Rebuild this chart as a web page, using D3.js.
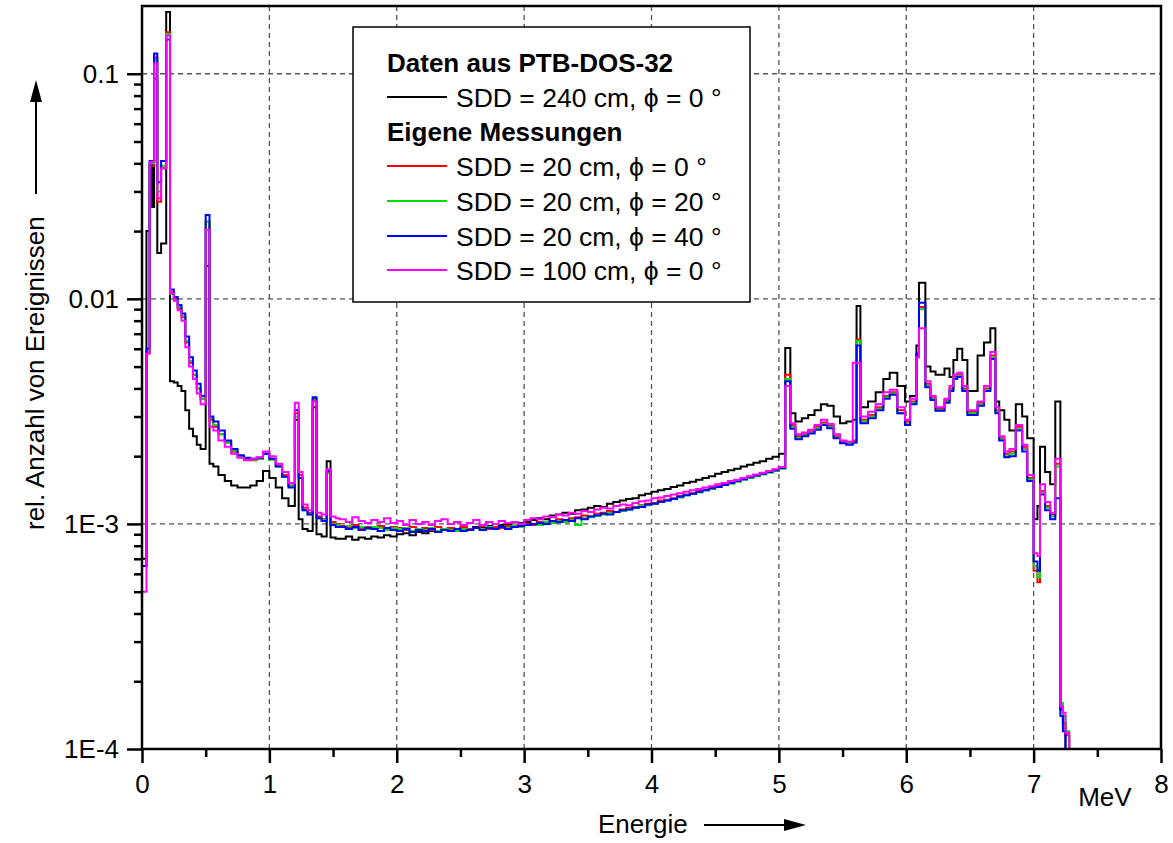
<!DOCTYPE html>
<html>
<head>
<meta charset="utf-8">
<script src="https://cdn.jsdelivr.net/npm/d3@7"></script>
<style>
  body { margin: 0; background: #fff; }
  svg { display: block; font-family: "Liberation Sans", Arial, Helvetica, sans-serif; }
</style>
</head>
<body>
<div id="chart"></div>
<script>
// energy spectra, step histograms; counts in units of 1E-3 (rel. Anzahl * 1000)

// left bin edges in MeV (last entry = right edge of last bin)
const binEdges = [
  0, 0.035, 0.06, 0.08, 0.095, 0.12, 0.15, 0.19, 0.22, 0.25,
  0.28, 0.31, 0.34, 0.37, 0.40, 0.43, 0.46, 0.50, 0.53, 0.56,
  0.60, 0.65, 0.70, 0.75, 0.80, 0.85, 0.90, 0.95, 1.00, 1.05,
  1.10, 1.15, 1.20, 1.23, 1.26, 1.30, 1.34, 1.37, 1.41, 1.45,
  1.48, 1.52,
  1.55, 1.60, 1.65, 1.70, 1.75, 1.80, 1.85, 1.90, 1.95, 2.00,
  2.05, 2.10, 2.15, 2.20, 2.25, 2.30, 2.35, 2.40, 2.45, 2.50,
  2.55, 2.60, 2.65, 2.70, 2.75, 2.80, 2.85, 2.90, 2.95, 3.00,
  3.05, 3.10, 3.15, 3.20, 3.25, 3.30, 3.35, 3.40, 3.45, 3.50,
  3.55, 3.60, 3.65, 3.70, 3.75, 3.80, 3.85, 3.90, 3.95, 4.00,
  4.05, 4.10, 4.15, 4.20, 4.25, 4.30, 4.35, 4.40, 4.45, 4.50,
  4.55, 4.60, 4.65, 4.70, 4.75, 4.80, 4.85, 4.90, 4.95, 5.00,
  5.05, 5.09, 5.13, 5.18, 5.23, 5.28, 5.33, 5.38, 5.43, 5.48,
  5.53, 5.58, 5.61, 5.64, 5.70, 5.76, 5.82, 5.87, 5.93, 5.99,
  6.03, 6.08, 6.10, 6.15, 6.19, 6.23, 6.30, 6.34, 6.37, 6.40,
  6.44, 6.48, 6.56, 6.61, 6.66, 6.70, 6.73, 6.77, 6.81, 6.86,
  6.91, 6.95, 7.00, 7.03, 7.05, 7.09, 7.13, 7.17, 7.21, 7.23,
  7.25, 7.28, 7.31, 7.35
];

// PTB-DOS-32, SDD = 240 cm, phi = 0
const ptb240 = [
  0.7, 20, 40, 25.6, 95, 16, 17.6, 188, 4.3, 4.25,
  4.1, 3.9, 3.2, 2.65, 2.45, 2.25, 2.15, 14, 1.85, 1.8,
  1.65, 1.55, 1.48, 1.45, 1.45, 1.48, 1.55, 1.72, 1.6, 1.45,
  1.3, 1.2, 2.9, 1.05, 0.95, 0.93, 3.3, 0.9, 0.88, 1.9,
  0.87, 0.86,
  0.86, 0.88, 0.85, 0.87, 0.86, 0.88, 0.87, 0.89, 0.88, 0.90,
  0.91, 0.89, 0.92, 0.91, 0.93, 0.92, 0.94, 0.95, 0.93, 0.96,
  0.95, 0.97, 0.96, 0.98, 0.97, 0.99, 1.0, 0.98, 1.01, 1.02,
  1.04, 1.06, 1.05, 1.09, 1.1, 1.12, 1.11, 1.15, 1.16, 1.18,
  1.2, 1.19, 1.23, 1.25, 1.27, 1.29, 1.3, 1.34, 1.36, 1.39,
  1.41, 1.43, 1.46, 1.48, 1.52, 1.54, 1.57, 1.6, 1.63, 1.67,
  1.7, 1.73, 1.76, 1.8, 1.83, 1.87, 1.9, 1.95, 1.99, 2.05,
  6.05, 3.1, 2.85, 2.95, 3.05, 3.2, 3.4, 3.35, 3.0, 2.8,
  2.85, 2.9, 9.3, 3.3, 3.5, 3.85, 4.4, 4.7, 4.1, 3.5,
  3.7, 6.2, 11.8, 5.0, 4.75, 4.6, 4.9, 4.5, 5.35, 6.0,
  5.35, 3.9, 5.6, 6.4, 7.4, 3.5, 3.2, 2.9, 2.6, 3.4,
  3.0, 2.4, 1.05, 1.2, 2.2, 1.7, 1.5, 3.5, 0.15, 0.13,
  0.1, 0.08, 0.05
];

// SDD = 20 cm, phi = 0
const sdd20phi0 = [
  0.65, 5.8, 39, 39, 118, 27, 38, 153, 10.7, 10.0,
  9.1, 8.3, 6.4, 5.2, 4.6, 4.0, 3.6, 22, 2.9, 2.7,
  2.5, 2.3, 2.1, 2.0, 1.93, 1.92, 1.95, 2.05, 1.95, 1.82,
  1.65, 1.48, 3.1, 1.65, 1.18, 1.12, 3.6, 1.08, 1.05, 1.7,
  1.02, 1.0,
  0.98, 0.96, 0.99, 0.95, 0.97, 0.96, 0.98, 0.95, 0.97, 0.96,
  0.94, 0.97, 0.95, 0.96, 0.94, 0.97, 0.95, 0.96, 0.94, 0.97,
  0.95, 0.96, 0.98, 0.95, 0.97, 0.96, 0.98, 0.97, 0.99, 1.0,
  0.99, 1.02, 1.01, 1.03, 1.05, 1.04, 1.06, 1.07, 1.09, 1.08,
  1.11, 1.12, 1.14, 1.13, 1.16, 1.18, 1.19, 1.21, 1.23, 1.24,
  1.27, 1.28, 1.3, 1.33, 1.35, 1.37, 1.4, 1.42, 1.45, 1.47,
  1.5, 1.53, 1.56, 1.59, 1.62, 1.65, 1.68, 1.71, 1.74, 1.78,
  4.6, 2.75, 2.45, 2.5, 2.58, 2.7, 2.82, 2.72, 2.45, 2.33,
  2.3, 2.35, 6.6, 2.9, 3.05, 3.3, 3.7, 3.85, 3.2, 2.85,
  3.5, 5.6, 9.2, 4.2, 3.65, 3.25, 3.55, 4.0, 4.5, 4.6,
  4.0, 3.15, 3.45, 4.0, 5.6, 3.2, 2.4, 2.05, 2.1, 2.7,
  2.2, 1.6, 0.62, 0.55, 1.4, 1.2, 1.1, 1.85, 0.15, 0.13,
  0.115, 0.09, 0.05
];

// SDD = 20 cm, phi = 20
const sdd20phi20 = [
  0.65, 5.9, 40, 40, 115, 30, 39, 150, 10.5, 9.9,
  9.2, 8.4, 6.5, 5.3, 4.6, 4.0, 3.6, 22, 2.95, 2.75,
  2.5, 2.3, 2.12, 2.0, 1.95, 1.93, 1.95, 2.05, 1.93, 1.8,
  1.62, 1.47, 3.0, 1.6, 1.15, 1.1, 3.55, 1.06, 1.04, 1.68,
  1.0, 0.99,
  0.97, 0.98, 0.96, 0.97, 0.95, 0.97, 0.96, 0.94, 0.96, 0.95,
  0.96, 0.93, 0.95, 0.94, 0.96, 0.93, 0.95, 0.94, 0.93, 0.95,
  0.94, 0.96, 0.95, 0.97, 0.95, 0.97, 0.96, 0.98, 0.97, 0.99,
  1.0, 0.99, 1.02, 1.01, 1.03, 1.02, 1.04, 0.99, 1.06, 1.07,
  1.09, 1.1, 1.12, 1.13, 1.14, 1.16, 1.18, 1.2, 1.21, 1.23,
  1.25, 1.27, 1.29, 1.31, 1.34, 1.36, 1.38, 1.41, 1.43, 1.46,
  1.49, 1.51, 1.54, 1.57, 1.6, 1.63, 1.66, 1.69, 1.72, 1.76,
  4.4, 2.7, 2.4, 2.47, 2.55, 2.66, 2.78, 2.7, 2.42, 2.3,
  2.27, 2.3, 6.5, 2.85, 3.0, 3.25, 3.65, 3.8, 3.1, 2.78,
  3.45, 5.5, 9.0, 4.1, 3.6, 3.2, 3.5, 3.95, 4.45, 4.55,
  3.95, 3.1, 3.4, 3.95, 5.5, 3.15, 2.38, 2.0, 2.05, 2.65,
  2.15, 1.58, 0.65, 0.58, 1.38, 1.18, 1.08, 1.8, 0.16, 0.14,
  0.12, 0.095, 0.05
];

// SDD = 20 cm, phi = 40
const sdd20phi40 = [
  0.65, 6.0, 41, 41, 123, 33, 41, 142, 11, 10.2,
  9.4, 8.6, 6.8, 5.5, 4.8, 4.2, 3.7, 23.6, 3.0, 2.85,
  2.6, 2.35, 2.15, 2.02, 1.97, 1.95, 1.97, 2.05, 1.95, 1.8,
  1.62, 1.45, 3.2, 1.6, 1.15, 1.1, 3.65, 1.06, 1.03, 1.72,
  0.99, 0.97,
  0.97, 0.95, 0.97, 0.94, 0.96, 0.95, 0.93, 0.96, 0.94, 0.93,
  0.95, 0.92, 0.94, 0.93, 0.95, 0.92, 0.94, 0.93, 0.95, 0.93,
  0.94, 0.96, 0.94, 0.96, 0.95, 0.97, 0.95, 0.97, 0.98, 0.99,
  1.0, 1.01, 1.0, 1.03, 1.02, 1.04, 1.03, 1.06, 1.05, 1.08,
  1.09, 1.11, 1.1, 1.13, 1.15, 1.16, 1.18, 1.19, 1.22, 1.23,
  1.25, 1.27, 1.29, 1.32, 1.34, 1.36, 1.39, 1.41, 1.44, 1.46,
  1.49, 1.52, 1.55, 1.58, 1.61, 1.64, 1.67, 1.7, 1.73, 1.77,
  4.3, 2.65, 2.38, 2.45, 2.52, 2.62, 2.75, 2.66, 2.4, 2.28,
  2.25, 2.3, 6.2, 2.8, 2.95, 3.2, 3.6, 3.75, 3.1, 2.75,
  3.4, 5.7, 9.6, 4.05, 3.55, 3.18, 3.45, 3.9, 4.4, 4.5,
  3.9, 3.05, 3.35, 3.9, 5.4, 3.1, 2.35, 1.98, 2.0, 2.6,
  2.1, 1.55, 0.68, 0.62, 1.35, 1.15, 1.05, 1.3, 0.14, 0.12,
  0.1, 0.08, 0.05
];

// SDD = 100 cm, phi = 0
const sdd100phi0 = [
  0.5, 5.7, 40.5, 40.5, 111, 28, 38, 148, 10.6, 9.8,
  8.9, 8.0, 6.1, 5.0, 4.4, 3.8, 3.4, 20.3, 2.7, 2.6,
  2.35, 2.2, 2.05, 1.97, 1.92, 1.95, 1.98, 2.1, 2.0, 1.85,
  1.7, 1.52, 3.45, 1.7, 1.22, 1.15, 3.5, 1.12, 1.1, 1.75,
  1.08, 1.06,
  1.05, 1.02, 1.07, 1.03, 1.01, 1.04, 1.02, 1.06, 1.01, 1.03,
  0.99, 1.04, 1.0, 1.02, 0.99, 1.03, 1.05, 1.0, 1.02, 0.99,
  1.01, 1.04, 0.99, 1.02, 1.0, 1.03, 1.01, 1.02, 1.0, 1.04,
  1.06, 1.05, 1.08, 1.07, 1.1, 1.09, 1.12, 1.11, 1.14, 1.13,
  1.16, 1.18, 1.17, 1.2, 1.22, 1.21, 1.24, 1.26, 1.27, 1.3,
  1.31, 1.33, 1.35, 1.37, 1.39, 1.41, 1.43, 1.45, 1.47, 1.5,
  1.52, 1.55, 1.57, 1.6, 1.63, 1.66, 1.69, 1.72, 1.75, 1.79,
  4.1, 2.8, 2.5, 2.55, 2.62, 2.75, 2.9, 2.78, 2.5, 2.35,
  2.32, 5.2, 5.2, 3.0, 3.15, 3.4, 3.85, 3.95, 3.3, 2.9,
  3.6, 5.5, 7.4, 4.3, 3.7, 3.3, 3.6, 4.1, 4.6, 4.7,
  4.1, 3.2, 3.5, 4.1, 5.8, 3.3, 2.45, 2.1, 2.15, 2.75,
  2.25, 1.65, 0.74, 0.72, 1.5, 1.25, 1.12, 1.95, 0.155, 0.145,
  0.118, 0.1, 0.05
];

const seriesNames = [
  "SDD = 240 cm, \u03d5 = 0 \u00b0",
  "SDD = 20 cm, \u03d5 = 0 \u00b0",
  "SDD = 20 cm, \u03d5 = 20 \u00b0",
  "SDD = 20 cm, \u03d5 = 40 \u00b0",
  "SDD = 100 cm, \u03d5 = 0 \u00b0"
];
const seriesColors = ["#000000", "#ff0000", "#00e000", "#0000ff", "#ff00ff"];
const seriesValues = [ptb240, sdd20phi0, sdd20phi20, sdd20phi40, sdd100phi0];
const legendGroups = ["Daten aus PTB-DOS-32", "Eigene Messungen"];

const xTicks = [0, 1, 2, 3, 4, 5, 6, 7, 8];
const xMinorTicks = [0.5, 1.5, 2.5, 3.5, 4.5, 5.5, 6.5, 7.5];
const yTicks = [0.1, 1, 10, 100];
const yTickLabels = ["1E-4", "1E-3", "0.01", "0.1"];
const yMinorTicks = [0.2, 0.3, 0.4, 0.5, 0.6, 0.7, 0.8, 0.9,
  2, 3, 4, 5, 6, 7, 8, 9, 20, 30, 40, 50, 60, 70, 80, 90];

const W = 1173, H = 843;
const margin = {top: 6, right: 12, bottom: 94, left: 142};
const width = W - margin.left - margin.right;
const height = H - margin.top - margin.bottom;

const svg = d3.select("#chart").append("svg")
  .attr("width", W)
  .attr("height", H);

const g = svg.append("g")
  .attr("transform", "translate(" + margin.left + "," + margin.top + ")");

const x = d3.scaleLinear().domain([0, 8]).range([0, width]);
const y = d3.scaleLog().domain([0.1, 200]).range([height, 0]);

svg.append("defs").append("clipPath").attr("id", "plotclip")
  .append("rect").attr("width", width).attr("height", height);

// grid
const grid = g.append("g").attr("class", "grid")
  .attr("stroke", "#555").attr("stroke-width", 1.3).attr("stroke-dasharray", "5,4");
grid.selectAll(".vg").data(xTicks.slice(1, -1)).enter().append("line")
  .attr("x1", d => x(d)).attr("x2", d => x(d))
  .attr("y1", 0).attr("y2", height);
grid.selectAll(".hg").data(yTicks.slice(1)).enter().append("line")
  .attr("x1", 0).attr("x2", width)
  .attr("y1", d => y(d)).attr("y2", d => y(d));

// histograms
const stepLine = d3.line()
  .x(d => x(d[0]))
  .y(d => y(d[1]))
  .curve(d3.curveStepAfter);

const lines = g.append("g").attr("clip-path", "url(#plotclip)");
seriesValues.forEach((vals, k) => {
  const pts = vals.map((v, i) => [binEdges[i], v]);
  pts.push([binEdges[vals.length], vals[vals.length - 1]]);
  lines.append("path")
    .attr("d", stepLine(pts))
    .attr("fill", "none")
    .attr("stroke", seriesColors[k])
    .attr("stroke-width", 2)
    .attr("stroke-linejoin", "miter");
});

// axes
const yAxis = d3.axisLeft(y).tickValues(yTicks).tickSize(15).tickPadding(8)
  .tickFormat((d, i) => yTickLabels[i]);
const yMinor = d3.axisLeft(y).tickValues(yMinorTicks).tickSize(8).tickFormat("");
const xAxis = d3.axisBottom(x).tickValues(xTicks).tickSize(14).tickPadding(12)
  .tickFormat(d3.format("d"));
const xMinor = d3.axisBottom(x).tickValues(xMinorTicks).tickSize(8).tickFormat("");

function styleAxis(sel) {
  sel.select(".domain").remove();
  sel.selectAll(".tick line").attr("stroke", "#000").attr("stroke-width", 2.5);
  sel.selectAll(".tick text").attr("font-size", 26).attr("fill", "#000")
    .attr("font-family", "'Liberation Sans', Arial, Helvetica, sans-serif");
}
g.append("g").call(yMinor).call(styleAxis);
g.append("g").call(yAxis).call(styleAxis);
g.append("g").attr("transform", "translate(0," + height + ")").call(xMinor).call(styleAxis);
g.append("g").attr("transform", "translate(0," + height + ")").call(xAxis).call(styleAxis);

// frame
g.append("rect")
  .attr("width", width).attr("height", height)
  .attr("fill", "none").attr("stroke", "#000").attr("stroke-width", 2.5);

// unit
g.append("text")
  .attr("x", x(7.35)).attr("y", height + 57)
  .attr("font-size", 26).text("MeV");

// axis titles with arrows
const xt = g.append("g").attr("transform", "translate(" + x(3.58) + "," + (height + 84) + ")");
xt.append("text").attr("font-size", 26).text("Energie");
xt.append("line").attr("x1", 106).attr("x2", 188).attr("y1", -8).attr("y2", -8)
  .attr("stroke", "#000").attr("stroke-width", 2);
xt.append("path").attr("d", "M186,-14L208,-8L186,-2Z").attr("fill", "#000");

const yt = svg.append("g").attr("transform", "translate(44,530) rotate(-90)");
yt.append("text").attr("font-size", 26).text("rel. Anzahl von Ereignissen");
yt.append("line").attr("x1", 336).attr("x2", 430).attr("y1", -8).attr("y2", -8)
  .attr("stroke", "#000").attr("stroke-width", 2);
yt.append("path").attr("d", "M428,-14L450,-8L428,-2Z").attr("fill", "#000");

// legend
const lg = svg.append("g").attr("transform", "translate(353,27)");
lg.append("rect").attr("width", 397).attr("height", 275)
  .attr("fill", "#fff").attr("stroke", "#000").attr("stroke-width", 1.5);
const rowY = [45, 80, 114, 149, 184, 219, 253];
const rows = [
  {type: "head", text: legendGroups[0]},
  {type: "item", k: 0},
  {type: "head", text: legendGroups[1]},
  {type: "item", k: 1},
  {type: "item", k: 2},
  {type: "item", k: 3},
  {type: "item", k: 4}
];
rows.forEach((r, i) => {
  if (r.type === "head") {
    lg.append("text").attr("x", 34).attr("y", rowY[i])
      .attr("font-size", 26).attr("font-weight", "bold").text(r.text);
  } else {
    lg.append("line").attr("x1", 34).attr("x2", 94)
      .attr("y1", rowY[i] - 10).attr("y2", rowY[i] - 10)
      .attr("stroke", seriesColors[r.k]).attr("stroke-width", 2);
    lg.append("text").attr("x", 103).attr("y", rowY[i])
      .attr("font-size", 26.5).text(seriesNames[r.k]);
  }
});
</script>
</body>
</html>
